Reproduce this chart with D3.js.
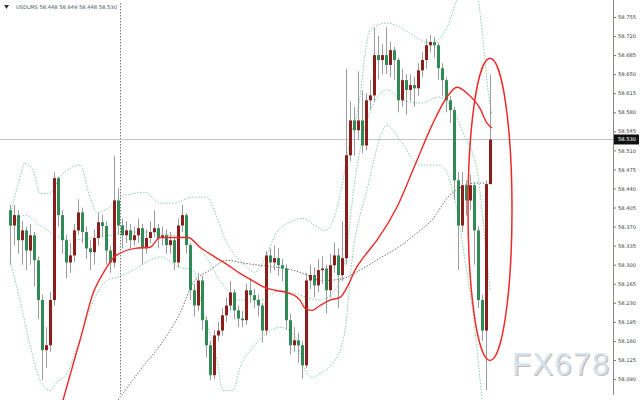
<!DOCTYPE html>
<html><head><meta charset="utf-8">
<script src="https://cdn.jsdelivr.net/npm/d3@7"></script>
<style>html,body{margin:0;padding:0;background:#fff;}svg{display:block}</style>
</head><body><svg id="c" width="640" height="400"></svg>
<script>
const symbol = "USDLMS";
const headerOHLC = [58.448, 58.649, 58.448, 58.530];
const currentPrice = 58.530;
const priceTicks = [58.755,58.720,58.685,58.650,58.615,58.580,58.545,58.510,58.475,58.440,58.405,58.370,58.335,58.300,58.265,58.230,58.195,58.160,58.125,58.090];

const open = [
58.400,58.372,58.391,58.345,58.363,58.326,58.354,58.308,58.235,58.143,
58.152,58.235,58.459,58.391,58.345,58.304,58.317,58.363,58.396,58.360,
58.330,58.323,58.349,58.378,58.371,58.326,58.304,58.418,58.372,58.354,
58.363,58.345,58.354,58.367,58.330,58.349,58.360,58.367,58.349,58.354,
58.336,58.345,58.304,58.372,58.391,58.336,58.253,58.225,58.271,58.198,
58.152,58.097,58.170,58.179,58.207,58.225,58.249,58.216,58.201,58.198,
58.253,58.244,58.235,58.225,58.179,58.317,58.304,58.312,58.299,58.293,
58.198,58.152,58.161,58.152,58.115,58.271,58.281,58.262,58.290,58.293,
58.253,58.299,58.317,58.281,58.312,58.501,58.565,58.547,58.565,58.519,
58.602,58.611,58.685,58.676,58.685,58.667,58.694,58.676,58.602,58.639,
58.621,58.630,58.624,58.657,58.676,58.703,58.709,58.703,58.661,58.639,
58.602,58.584,58.455,58.372,58.446,58.418,58.446,58.363,58.235,58.179,
58.448];
const close = [
58.372,58.391,58.345,58.363,58.326,58.354,58.308,58.235,58.143,58.152,
58.235,58.459,58.391,58.345,58.304,58.317,58.363,58.396,58.360,58.330,
58.323,58.349,58.378,58.371,58.326,58.304,58.418,58.372,58.354,58.363,
58.345,58.354,58.367,58.330,58.349,58.360,58.367,58.349,58.354,58.336,
58.345,58.304,58.372,58.391,58.336,58.253,58.225,58.271,58.198,58.152,
58.097,58.170,58.179,58.207,58.225,58.249,58.216,58.201,58.198,58.253,
58.244,58.235,58.225,58.179,58.317,58.304,58.312,58.299,58.293,58.198,
58.152,58.161,58.152,58.115,58.271,58.281,58.262,58.290,58.293,58.253,
58.299,58.317,58.281,58.312,58.501,58.565,58.547,58.565,58.519,58.602,
58.611,58.685,58.676,58.685,58.667,58.694,58.676,58.602,58.639,58.621,
58.630,58.624,58.657,58.676,58.703,58.709,58.703,58.661,58.639,58.602,
58.584,58.455,58.372,58.446,58.418,58.446,58.363,58.235,58.179,58.448,
58.530];
const high = [
58.410,58.410,58.400,58.380,58.370,58.375,58.360,58.315,58.245,58.185,
58.250,58.470,58.462,58.400,58.355,58.340,58.375,58.420,58.405,58.370,
58.345,58.365,58.395,58.392,58.380,58.335,58.500,58.440,58.385,58.380,
58.375,58.370,58.385,58.375,58.365,58.380,58.400,58.375,58.370,58.365,
58.360,58.350,58.385,58.410,58.395,58.340,58.265,58.285,58.280,58.205,
58.160,58.180,58.195,58.220,58.240,58.270,58.255,58.225,58.215,58.265,
58.275,58.255,58.245,58.230,58.325,58.330,58.335,58.330,58.310,58.300,
58.210,58.185,58.175,58.160,58.285,58.300,58.295,58.310,58.315,58.300,
58.320,58.340,58.330,58.380,58.660,58.600,58.590,58.655,58.620,58.615,
58.640,58.735,58.720,58.705,58.736,58.710,58.700,58.680,58.660,58.650,
58.650,58.645,58.670,58.690,58.715,58.722,58.718,58.708,58.670,58.645,
58.610,58.590,58.470,58.470,58.455,58.465,58.452,58.370,58.245,58.455,
58.649];
const low = [
58.300,58.335,58.320,58.300,58.290,58.300,58.260,58.200,58.088,58.110,
58.140,58.225,58.370,58.320,58.275,58.285,58.305,58.355,58.340,58.310,
58.290,58.300,58.335,58.350,58.300,58.285,58.295,58.355,58.330,58.340,
58.330,58.335,58.340,58.300,58.320,58.340,58.350,58.330,58.335,58.320,
58.320,58.290,58.295,58.360,58.320,58.235,58.205,58.215,58.180,58.130,
58.088,58.090,58.160,58.170,58.195,58.215,58.200,58.185,58.185,58.190,
58.230,58.220,58.205,58.157,58.170,58.285,58.290,58.280,58.270,58.180,
58.135,58.140,58.120,58.090,58.110,58.255,58.240,58.250,58.265,58.210,
58.240,58.285,58.220,58.270,58.300,58.490,58.500,58.530,58.505,58.510,
58.585,58.600,58.640,58.650,58.650,58.645,58.640,58.580,58.590,58.575,
58.600,58.590,58.610,58.645,58.660,58.690,58.680,58.640,58.610,58.580,
58.560,58.420,58.290,58.360,58.390,58.400,58.300,58.220,58.160,58.069,
58.448];

// red moving average (bar index, price)
const maIdx = [13.25,15,17.5,20.75,23.75,25.75,27.5,31.25,35,37.5,41.25,44.5,47.5,51.25,53.75,57.5,61.25,63.75,66.25,70,72.5,73.75,75.5,77.5,80,82.5,84.5,86.25,88.75,91.75,96.75,101.75,105.75,109.25,111.75,114.25,117.5,119.25,120.5];
const maVal = [58.051,58.097,58.161,58.247,58.290,58.312,58.321,58.330,58.332,58.350,58.350,58.350,58.332,58.314,58.303,58.284,58.268,58.258,58.253,58.247,58.235,58.220,58.216,58.225,58.235,58.240,58.262,58.290,58.317,58.345,58.406,58.492,58.560,58.608,58.626,58.615,58.587,58.560,58.551];
// grey dotted slow moving average
const slowIdx = [27,32.5,37.5,42.5,45.75,50,54.25,58.25,62.5,66.75,70.75,74.25,77.5,82.5,87.5,92.5,97.5,102.5,105,110,113.25,116.25,120];
const slowVal = [58.051,58.106,58.152,58.211,58.266,58.290,58.308,58.303,58.299,58.295,58.290,58.281,58.271,58.273,58.290,58.312,58.334,58.363,58.378,58.428,58.444,58.450,58.450];
// Bollinger-style envelope (green dotted)
const upIdx = [0,2,3.75,5.75,7.5,10,12.5,15,17.5,20,21.75,23.75,27.5,31.25,33.75,37.5,40.75,45.75,49.25,51.25,54.25,58.25,61.25,63.75,66.75,70,73.25,76.25,78.75,81.25,83,85,87.5,88.75,90,94.25,97.5,100,105,109.25,111.75,114.25,116.75,118.25,119.5,120.5];
const upVal = [58.391,58.446,58.486,58.474,58.431,58.431,58.461,58.477,58.483,58.424,58.396,58.400,58.424,58.431,58.433,58.413,58.413,58.424,58.424,58.396,58.339,58.303,58.286,58.312,58.360,58.378,58.385,58.372,58.363,58.391,58.446,58.529,58.608,58.685,58.731,58.744,58.736,58.725,58.707,58.736,58.786,58.814,58.795,58.713,58.621,58.575];
const midIdx = [0,3.75,7.5,11.25,15,20,25,30,35,40,45,48.75,52.5,57.5,62.5,67.5,72.5,77.5,81.25,83.75,86.25,88,90.75,94.25,98.25,102.5,107.5,110.75,113.25,116.75,118.75,120];
const midVal = [58.367,58.391,58.372,58.354,58.345,58.349,58.354,58.360,58.360,58.354,58.349,58.317,58.271,58.235,58.235,58.253,58.244,58.235,58.253,58.308,58.455,58.529,58.593,58.621,58.602,58.597,58.608,58.584,58.542,58.473,58.345,58.253];
const loIdx = [0,2.5,5,7.5,10,11.75,14.25,16.75,19.25,21.75,24.25,26.75,30.75,35,37.5,42.5,45.75,48.25,51.75,53.25,55.75,57.5,60.75,64.25,67.5,70.75,74.25,75.75,77.5,81.25,83.75,85.5,89.25,94.25,97.5,102.5,107.5,111.25,113.75,116.25,118];
const loVal = [58.308,58.235,58.152,58.088,58.069,58.084,58.100,58.148,58.203,58.247,58.271,58.277,58.290,58.308,58.314,58.295,58.290,58.216,58.124,58.069,58.069,58.111,58.148,58.174,58.185,58.174,58.100,58.093,58.100,58.124,58.179,58.308,58.437,58.556,58.529,58.483,58.483,58.418,58.308,58.179,58.051];

const separators = [27.5];
const highlight = {from: 114.5, to: 125.5, low: 58.124, high: 58.679};
const watermark = "FX678";

const W = 640, H = 400, plotRight = 613;
const svg = d3.select("#c");
const x = d3.scaleLinear().domain([0, 120]).range([10, 490]);
const y = d3.scaleLinear().domain([58.090, 58.755]).range([379, 17]);

svg.append("defs").append("clipPath").attr("id","clip")
  .append("rect").attr("x",0).attr("y",0).attr("width",plotRight).attr("height",H);
const plot = svg.append("g").attr("clip-path","url(#clip)");

// separator
plot.selectAll("line.sep").data(separators).join("line")
  .attr("x1",d=>x(d)+0.5).attr("x2",d=>x(d)+0.5).attr("y1",3).attr("y2",394)
  .attr("stroke","#777").attr("stroke-width",1).attr("stroke-dasharray","1.5,1.5");

// current price line
plot.append("line").attr("x1",0).attr("x2",plotRight)
  .attr("y1",Math.round(y(currentPrice))+0.5).attr("y2",Math.round(y(currentPrice))+0.5)
  .attr("stroke","#c4c4c4").attr("stroke-width",1);

const line = d3.line().x(d=>x(d[0])).y(d=>y(d[1])).curve(d3.curveMonotoneX);
const zip = (a,b)=>a.map((v,i)=>[v,b[i]]);

[[upIdx,upVal],[midIdx,midVal],[loIdx,loVal]].forEach(([a,b])=>{
  plot.append("path").attr("d",line(zip(a,b))).attr("fill","none")
    .attr("stroke","#88d0a8").attr("stroke-width",1).attr("stroke-dasharray","1.5,1.5");
});
plot.append("path").attr("d",line(zip(slowIdx,slowVal))).attr("fill","none")
  .attr("stroke","#707070").attr("stroke-width",1).attr("stroke-dasharray","1.5,1.5");

// candles
const idx = d3.range(close.length);
const cg = plot.append("g");
cg.selectAll("line.w").data(idx).join("line")
  .attr("x1",i=>x(i)+0.5).attr("x2",i=>x(i)+0.5)
  .attr("y1",i=>y(high[i])).attr("y2",i=>y(low[i]))
  .attr("stroke","#9c9c9c").attr("stroke-width",1);
cg.selectAll("rect.b").data(idx).join("rect")
  .attr("x",i=>x(i)-1).attr("width",3)
  .attr("y",i=>y(Math.max(open[i],close[i])))
  .attr("height",i=>Math.max(1,Math.abs(y(open[i])-y(close[i]))))
  .attr("fill",i=>close[i]>=open[i]?"#8c1d1d":"#2f8a58");

// red MA
plot.append("path").attr("d",line(zip(maIdx,maVal))).attr("fill","none")
  .attr("stroke","#ec2a2a").attr("stroke-width",1.4);

// highlight ellipse
svg.append("ellipse")
  .attr("cx",x((highlight.from+highlight.to)/2)).attr("cy",y((highlight.low+highlight.high)/2))
  .attr("rx",(x(highlight.to)-x(highlight.from))/2).attr("ry",(y(highlight.low)-y(highlight.high))/2)
  .attr("fill","none").attr("stroke","#ec2a2a").attr("stroke-width",1.5);

// watermark
svg.append("text").attr("x",513).attr("y",376).text(watermark)
  .attr("font-family","Liberation Sans, Arial, sans-serif").attr("font-size",31)
  .attr("letter-spacing",1.5).attr("fill","#cdb8a4");
svg.append("text").attr("x",512).attr("y",375).text(watermark)
  .attr("font-family","Liberation Sans, Arial, sans-serif").attr("font-size",31)
  .attr("letter-spacing",1.5).attr("fill","#d4e3f4");

// right axis
const ax = svg.append("g").attr("transform",`translate(${plotRight},0)`)
  .call(d3.axisRight(y).tickValues(priceTicks).tickSize(3).tickPadding(2).tickFormat(d3.format(".3f")));
ax.select(".domain").remove();
ax.selectAll(".tick line").attr("stroke","#777");
ax.selectAll(".tick text").attr("font-family","DejaVu Sans, sans-serif").attr("font-size",5.2).attr("fill","#444");
svg.append("line").attr("x1",plotRight+0.5).attr("x2",plotRight+0.5).attr("y1",0).attr("y2",395)
  .attr("stroke","#8a8a8a").attr("stroke-width",1);

// current price box
const cy = y(currentPrice);
svg.append("rect").attr("x",plotRight+1).attr("y",cy-5).attr("width",25).attr("height",10).attr("fill","#111");
svg.append("text").attr("x",plotRight+5).attr("y",cy+2).text(d3.format(".3f")(currentPrice))
  .attr("font-family","DejaVu Sans, sans-serif").attr("font-size",5.2).attr("fill","#fff");

// header
svg.append("path").attr("d","M4,5 L9,5 L6.5,9 Z").attr("fill","#334");
svg.append("text").attr("x",16).attr("y",9)
  .text(symbol + "  " + headerOHLC.map(d3.format(".3f")).join(" "))
  .attr("font-family","DejaVu Sans, sans-serif").attr("font-size",5.2).attr("fill","#445566");
</script></body></html>
